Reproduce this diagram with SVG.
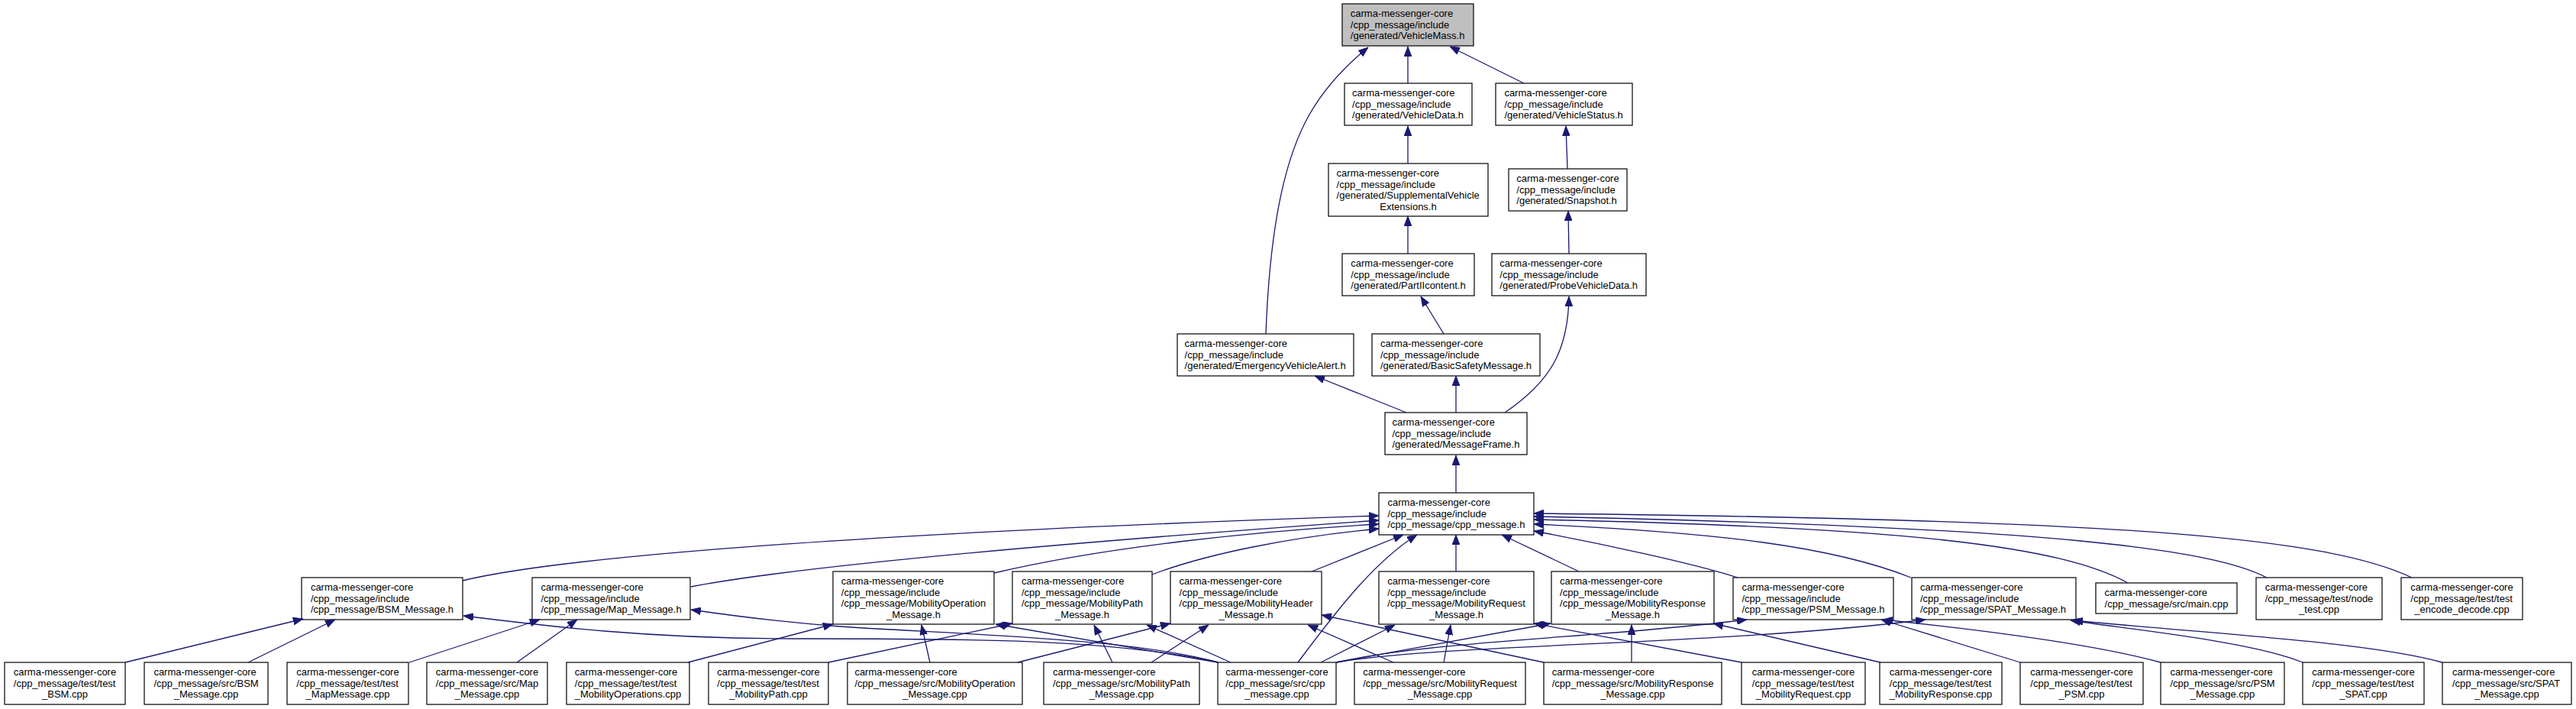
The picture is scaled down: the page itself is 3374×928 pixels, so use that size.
<svg xmlns="http://www.w3.org/2000/svg" width="3374" height="928" viewBox="0 0 3374 928">
<defs>
<style>
.n rect{fill:#fff;stroke:#000;stroke-width:1.2}
.root rect{fill:#bfbfbf}
text{font-family:"Liberation Sans",Arial,Helvetica,sans-serif;font-size:13px;fill:#000}
.c{text-anchor:middle}
#edges path{fill:none;stroke:#191970;stroke-width:1.3;marker-end:url(#ah)}
</style>
<marker id="ah" markerUnits="userSpaceOnUse" viewBox="0 0 13 10" markerWidth="13" markerHeight="10" refX="13" refY="5" orient="auto">
<path d="M0,0 L13,5 L0,10 z" fill="#191970" stroke="#191970" stroke-width="0.8"/>
</marker>
</defs>
<rect width="3374" height="928" fill="#fff"/>

<g id="n0" class="n root"><rect x="1758" y="5" width="172" height="55"/><text x="1768.8" y="22">carma-messenger-core<tspan x="1768.8" y="36.5">/cpp_message/include</tspan><tspan x="1768.8" y="51">/generated/VehicleMass.h</tspan></text></g>
<g id="n1" class="n"><rect x="1761" y="109" width="167" height="55"/><text x="1771.1" y="126">carma-messenger-core<tspan x="1771.1" y="140.5">/cpp_message/include</tspan><tspan x="1771.1" y="155">/generated/VehicleData.h</tspan></text></g>
<g id="n2" class="n"><rect x="1959" y="109" width="179" height="55"/><text x="1970.4" y="126">carma-messenger-core<tspan x="1970.4" y="140.5">/cpp_message/include</tspan><tspan x="1970.4" y="155">/generated/VehicleStatus.h</tspan></text></g>
<g id="n3" class="n"><rect x="1740" y="214" width="209" height="69"/><text x="1750.6" y="231">carma-messenger-core<tspan x="1750.6" y="245.5">/cpp_message/include</tspan><tspan x="1750.6" y="260">/generated/SupplementalVehicle</tspan></text><text class="c" x="1844.5" y="274.5">Extensions.h</text></g>
<g id="n4" class="n"><rect x="1976" y="221" width="155" height="55"/><text x="1986.3" y="238">carma-messenger-core<tspan x="1986.3" y="252.5">/cpp_message/include</tspan><tspan x="1986.3" y="267">/generated/Snapshot.h</tspan></text></g>
<g id="n5" class="n"><rect x="1758" y="332" width="173" height="55"/><text x="1769.3" y="349">carma-messenger-core<tspan x="1769.3" y="363.5">/cpp_message/include</tspan><tspan x="1769.3" y="378">/generated/PartIIcontent.h</tspan></text></g>
<g id="n6" class="n"><rect x="1954" y="332" width="202" height="55"/><text x="1964.3" y="349">carma-messenger-core<tspan x="1964.3" y="363.5">/cpp_message/include</tspan><tspan x="1964.3" y="378">/generated/ProbeVehicleData.h</tspan></text></g>
<g id="n7" class="n"><rect x="1542" y="437" width="231" height="55"/><text x="1551.6" y="454">carma-messenger-core<tspan x="1551.6" y="468.5">/cpp_message/include</tspan><tspan x="1551.6" y="483">/generated/EmergencyVehicleAlert.h</tspan></text></g>
<g id="n8" class="n"><rect x="1797" y="437" width="220" height="55"/><text x="1808" y="454">carma-messenger-core<tspan x="1808" y="468.5">/cpp_message/include</tspan><tspan x="1808" y="483">/generated/BasicSafetyMessage.h</tspan></text></g>
<g id="n9" class="n"><rect x="1814" y="540" width="186" height="55"/><text x="1823.5" y="557">carma-messenger-core<tspan x="1823.5" y="571.5">/cpp_message/include</tspan><tspan x="1823.5" y="586">/generated/MessageFrame.h</tspan></text></g>
<g id="n10" class="n"><rect x="1806" y="645" width="203" height="55"/><text x="1817.5" y="662">carma-messenger-core<tspan x="1817.5" y="676.5">/cpp_message/include</tspan><tspan x="1817.5" y="691">/cpp_message/cpp_message.h</tspan></text></g>

<g id="n11" class="n"><rect x="395" y="756" width="211" height="55"/><text x="406.9" y="773">carma-messenger-core<tspan x="406.9" y="787.5">/cpp_message/include</tspan><tspan x="406.9" y="802">/cpp_message/BSM_Message.h</tspan></text></g>
<g id="n12" class="n"><rect x="697" y="756" width="207" height="55"/><text x="708.4" y="773">carma-messenger-core<tspan x="708.4" y="787.5">/cpp_message/include</tspan><tspan x="708.4" y="802">/cpp_message/Map_Message.h</tspan></text></g>
<g id="n13" class="n"><rect x="1091" y="748" width="211" height="69"/><text x="1101.8" y="765">carma-messenger-core<tspan x="1101.8" y="779.5">/cpp_message/include</tspan><tspan x="1101.8" y="794">/cpp_message/MobilityOperation</tspan></text><text class="c" x="1196.5" y="808.5">_Message.h</text></g>
<g id="n14" class="n"><rect x="1326" y="748" width="183" height="69"/><text x="1338" y="765">carma-messenger-core<tspan x="1338" y="779.5">/cpp_message/include</tspan><tspan x="1338" y="794">/cpp_message/MobilityPath</tspan></text><text class="c" x="1417.5" y="808.5">_Message.h</text></g>
<g id="n15" class="n"><rect x="1533" y="748" width="198" height="69"/><text x="1544.6" y="765">carma-messenger-core<tspan x="1544.6" y="779.5">/cpp_message/include</tspan><tspan x="1544.6" y="794">/cpp_message/MobilityHeader</tspan></text><text class="c" x="1632" y="808.5">_Message.h</text></g>
<g id="n16" class="n"><rect x="1806" y="748" width="203" height="69"/><text x="1817.2" y="765">carma-messenger-core<tspan x="1817.2" y="779.5">/cpp_message/include</tspan><tspan x="1817.2" y="794">/cpp_message/MobilityRequest</tspan></text><text class="c" x="1907.5" y="808.5">_Message.h</text></g>
<g id="n17" class="n"><rect x="2032" y="748" width="213" height="69"/><text x="2043.1" y="765">carma-messenger-core<tspan x="2043.1" y="779.5">/cpp_message/include</tspan><tspan x="2043.1" y="794">/cpp_message/MobilityResponse</tspan></text><text class="c" x="2138.5" y="808.5">_Message.h</text></g>
<g id="n18" class="n"><rect x="2270" y="756" width="210" height="55"/><text x="2281.4" y="773">carma-messenger-core<tspan x="2281.4" y="787.5">/cpp_message/include</tspan><tspan x="2281.4" y="802">/cpp_message/PSM_Message.h</tspan></text></g>
<g id="n19" class="n"><rect x="2504" y="756" width="215" height="55"/><text x="2515" y="773">carma-messenger-core<tspan x="2515" y="787.5">/cpp_message/include</tspan><tspan x="2515" y="802">/cpp_message/SPAT_Message.h</tspan></text></g>
<g id="n20" class="n"><rect x="2745" y="763" width="185" height="40"/><text x="2756.6" y="780">carma-messenger-core<tspan x="2756.6" y="794.5">/cpp_message/src/main.cpp</tspan></text></g>
<g id="n21" class="n"><rect x="2955" y="756" width="165" height="55"/><text x="2966.7" y="773">carma-messenger-core<tspan x="2966.7" y="787.5">/cpp_message/test/node</tspan></text><text class="c" x="3037.5" y="802">_test.cpp</text></g>
<g id="n22" class="n"><rect x="3145" y="756" width="159" height="55"/><text x="3157.3" y="773">carma-messenger-core<tspan x="3157.3" y="787.5">/cpp_message/test/test</tspan></text><text class="c" x="3224.5" y="802">_encode_decode.cpp</text></g>

<g id="n23" class="n"><rect x="6" y="867" width="158" height="55"/><text x="17.8" y="884">carma-messenger-core<tspan x="17.8" y="898.5">/cpp_message/test/test</tspan></text><text class="c" x="85" y="913">_BSM.cpp</text></g>
<g id="n24" class="n"><rect x="189" y="867" width="162" height="55"/><text x="201.4" y="884">carma-messenger-core<tspan x="201.4" y="898.5">/cpp_message/src/BSM</tspan></text><text class="c" x="270" y="913">_Message.cpp</text></g>
<g id="n25" class="n"><rect x="376" y="867" width="159" height="55"/><text x="388.3" y="884">carma-messenger-core<tspan x="388.3" y="898.5">/cpp_message/test/test</tspan></text><text class="c" x="455.5" y="913">_MapMessage.cpp</text></g>
<g id="n26" class="n"><rect x="559" y="867" width="158" height="55"/><text x="570.8" y="884">carma-messenger-core<tspan x="570.8" y="898.5">/cpp_message/src/Map</tspan></text><text class="c" x="638" y="913">_Message.cpp</text></g>
<g id="n27" class="n"><rect x="742" y="867" width="161" height="55"/><text x="752.8" y="884">carma-messenger-core<tspan x="752.8" y="898.5">/cpp_message/test/test</tspan></text><text class="c" x="822.5" y="913">_MobilityOperations.cpp</text></g>
<g id="n28" class="n"><rect x="928" y="867" width="157" height="55"/><text x="939.3" y="884">carma-messenger-core<tspan x="939.3" y="898.5">/cpp_message/test/test</tspan></text><text class="c" x="1006.5" y="913">_MobilityPath.cpp</text></g>
<g id="n29" class="n"><rect x="1110" y="867" width="229" height="55"/><text x="1119.4" y="884">carma-messenger-core<tspan x="1119.4" y="898.5">/cpp_message/src/MobilityOperation</tspan></text><text class="c" x="1224.5" y="913">_Message.cpp</text></g>
<g id="n30" class="n"><rect x="1367" y="867" width="204" height="55"/><text x="1379" y="884">carma-messenger-core<tspan x="1379" y="898.5">/cpp_message/src/MobilityPath</tspan></text><text class="c" x="1469" y="913">_Message.cpp</text></g>
<g id="n31" class="n"><rect x="1595" y="867" width="155" height="55"/><text x="1605.3" y="884">carma-messenger-core<tspan x="1605.3" y="898.5">/cpp_message/src/cpp</tspan></text><text class="c" x="1672.5" y="913">_message.cpp</text></g>
<g id="n32" class="n"><rect x="1774" y="867" width="224" height="55"/><text x="1785.2" y="884">carma-messenger-core<tspan x="1785.2" y="898.5">/cpp_message/src/MobilityRequest</tspan></text><text class="c" x="1886" y="913">_Message.cpp</text></g>
<g id="n33" class="n"><rect x="2022" y="867" width="233" height="55"/><text x="2032.7" y="884">carma-messenger-core<tspan x="2032.7" y="898.5">/cpp_message/src/MobilityResponse</tspan></text><text class="c" x="2138.5" y="913">_Message.cpp</text></g>
<g id="n34" class="n"><rect x="2281" y="867" width="162" height="55"/><text x="2294.8" y="884">carma-messenger-core<tspan x="2294.8" y="898.5">/cpp_message/test/test</tspan></text><text class="c" x="2362" y="913">_MobilityRequest.cpp</text></g>
<g id="n35" class="n"><rect x="2462" y="867" width="160" height="55"/><text x="2474.8" y="884">carma-messenger-core<tspan x="2474.8" y="898.5">/cpp_message/test/test</tspan></text><text class="c" x="2542" y="913">_MobilityResponse.cpp</text></g>
<g id="n36" class="n"><rect x="2646" y="867" width="161" height="55"/><text x="2659.3" y="884">carma-messenger-core<tspan x="2659.3" y="898.5">/cpp_message/test/test</tspan></text><text class="c" x="2726.5" y="913">_PSM.cpp</text></g>
<g id="n37" class="n"><rect x="2830" y="867" width="162" height="55"/><text x="2842.4" y="884">carma-messenger-core<tspan x="2842.4" y="898.5">/cpp_message/src/PSM</tspan></text><text class="c" x="2911" y="913">_Message.cpp</text></g>
<g id="n38" class="n"><rect x="3016" y="867" width="159" height="55"/><text x="3028.3" y="884">carma-messenger-core<tspan x="3028.3" y="898.5">/cpp_message/test/test</tspan></text><text class="c" x="3095.5" y="913">_SPAT.cpp</text></g>
<g id="n39" class="n"><rect x="3199" y="867" width="169" height="55"/><text x="3212" y="884">carma-messenger-core<tspan x="3212" y="898.5">/cpp_message/src/SPAT</tspan></text><text class="c" x="3283.5" y="913">_Message.cpp</text></g>

<g id="edges">
<path d="M1844,109 L1844,61"/>
<path d="M1996,109 L1899,61"/>
<path d="M1658,437 C1662,330 1675,220 1715,150 C1735,115 1760,88 1792,62"/>
<path d="M1844,214 L1844,165"/>
<path d="M2053,221 L2051,165"/>
<path d="M1844,332 L1844,283"/>
<path d="M2055,332 L2054,276"/>
<path d="M1891,437 L1861,388"/>
<path d="M1842,540 L1722,492"/>
<path d="M1907,540 L1907,492"/>
<path d="M1971,540 C2030,500 2054,460 2055,388"/>
<path d="M1907,645 L1907,596"/>
<path d="M606,760 C750,725 1200,695 1806,675"/>
<path d="M905,768 C1050,740 1400,710 1806,681"/>
<path d="M1302,750 C1450,715 1650,695 1806,686"/>
<path d="M1509,752 C1580,725 1690,703 1806,692"/>
<path d="M1718,748 L1838,700"/>
<path d="M1700,867 C1750,800 1800,735 1856,700"/>
<path d="M1907,748 L1907,700"/>
<path d="M2068,748 L1967,700"/>
<path d="M2276,756 C2220,738 2100,712 2009,695"/>
<path d="M2503,756 C2400,715 2250,697 2009,686"/>
<path d="M2787,763 C2700,715 2500,690 2009,680"/>
<path d="M2969,756 C2900,720 2700,690 2009,676"/>
<path d="M3159,756 C3050,705 2800,680 2009,672"/>
<path d="M164,867 L397,810"/>
<path d="M325,867 L439,811"/>
<path d="M1596,867 C1450,835 1250,836 1040,836 C850,836 720,820 607,806"/>
<path d="M536,867 L707,811"/>
<path d="M677,867 L756,811"/>
<path d="M1596,867 C1480,835 1250,830 1100,820 C1020,814 960,806 905,798"/>
<path d="M901,867 L1091,817"/>
<path d="M1218,867 L1207,818"/>
<path d="M1595,867 L1304,817"/>
<path d="M1085,867 L1326,816"/>
<path d="M1457,867 L1433,818"/>
<path d="M1612,867 L1502,818"/>
<path d="M1333,867 L1533,816"/>
<path d="M1508,867 L1583,818"/>
<path d="M1825,867 L1713,818"/>
<path d="M2022,867 L1731,805"/>
<path d="M1730,867 L1827,818"/>
<path d="M1891,867 L1900,818"/>
<path d="M2281,867 L2009,816"/>
<path d="M1750,867 L2031,816"/>
<path d="M2137,867 L2137,818"/>
<path d="M2463,867 L2244,816"/>
<path d="M1750,867 C1880,838 2100,835 2288,811"/>
<path d="M2646,867 L2464,811"/>
<path d="M2830,867 C2750,845 2600,825 2466,811"/>
<path d="M1750,867 C1900,842 2250,845 2522,811"/>
<path d="M3016,867 C2950,840 2800,825 2712,812"/>
<path d="M3199,867 C3100,840 2900,830 2715,812"/>
</g>
</svg>
